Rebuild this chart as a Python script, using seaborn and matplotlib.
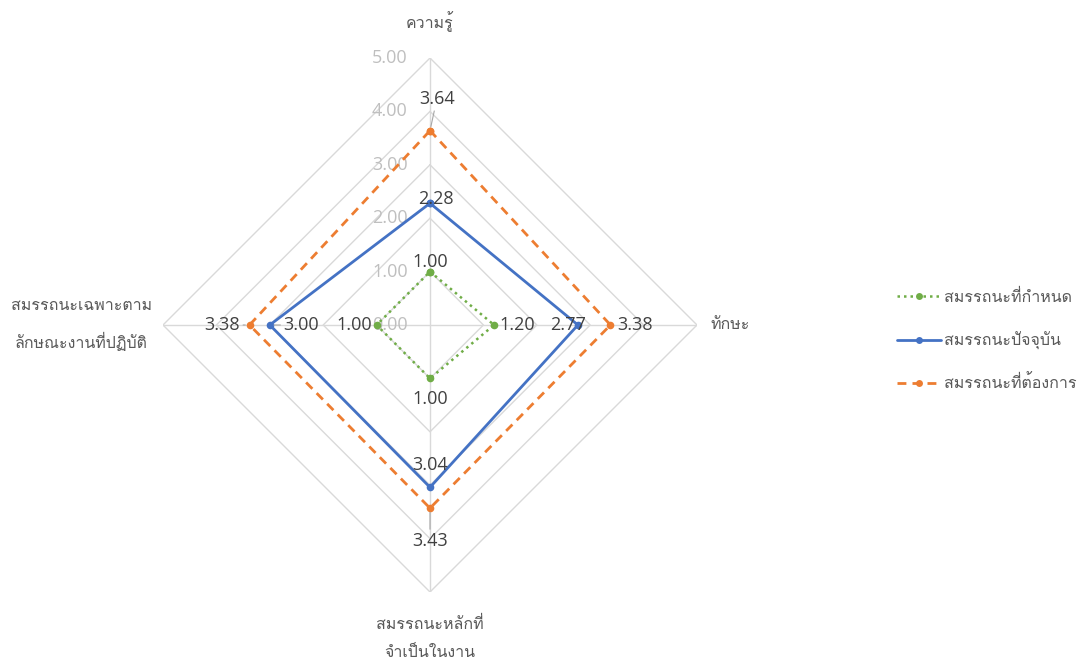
import numpy as np
import matplotlib
matplotlib.use("Agg")
import matplotlib.pyplot as plt
import seaborn as sns
from matplotlib import font_manager
from matplotlib.lines import Line2D

# ข้อมูล
categories = ["ความรู้", "ทักษะ", "สมรรถนะหลักที่\nจำเป็นในงาน", "สมรรถนะเฉพาะตาม\nลักษณะงานที่ปฏิบัติ"]
series_names = ["สมรรถนะที่กำหนด", "สมรรถนะปัจจุบัน", "สมรรถนะที่ต้องการ"]
required = [1.00, 1.20, 1.00, 1.00]
current = [2.28, 2.77, 3.04, 3.00]
desired = [3.64, 3.38, 3.43, 3.38]
levels = [0, 1, 2, 3, 4, 5]

# หาฟอนต์ที่มีอักษรไทย
names = {f.name for f in font_manager.fontManager.ttflist}
thai = [n for n in ["Loma", "Noto Sans Thai", "IBM Plex Sans Thai", "Sarabun"] if n in names][:1]

sns.set_style("white")
plt.rcParams["font.family"] = ["Open Sans"] + thai + ["DejaVu Sans"]
thai_family = thai + ["DejaVu Sans"]

fig = plt.figure(figsize=(10.79, 6.66), dpi=100)
ax = fig.add_axes([163 / 1079, 74 / 666, 534 / 1079, 534 / 666], projection="polar")
ax.set_theta_zero_location("N")
ax.set_theta_direction(-1)
ax.set_ylim(0, 5)
ax.grid(False)
ax.spines["polar"].set_visible(False)
ax.set_xticks([])
ax.set_yticks([])
ax.set_facecolor("none")

n = len(categories)
theta = np.arange(n) * 2 * np.pi / n
theta_c = np.append(theta, theta[0])

# เส้นกริดรูปข้าวหลามตัด
for lv in levels[1:]:
    ax.plot(theta_c, [lv] * (n + 1), color="#d9d9d9", lw=1.0, zorder=1)
for t in theta:
    ax.plot([t, t], [0, levels[-1]], color="#d9d9d9", lw=1.0, zorder=1)
for lv in levels:
    ax.annotate(f"{lv:.2f}", xy=(0, lv), xytext=(-16, 0), textcoords="offset points",
                ha="right", va="center", color="#bfbfbf", fontsize=13, zorder=2)

styles = [
    (required, "#70ad47", (0, (1, 1.6)), 1.8),
    (current, "#4472c4", "-", 2.0),
    (desired, "#ed7d31", (0, (3.2, 2.2)), 2.0),
]
for (vals, col, ls, lw), name in zip(styles, series_names):
    sns.lineplot(x=theta_c, y=np.append(vals, vals[0]), sort=False, ax=ax, color=col,
                 linestyle=ls, linewidth=lw, marker="o", markersize=5.5,
                 markeredgewidth=0, estimator=None, zorder=3)

# ตำแหน่งป้ายค่า (offset points, ha, va, leader)
label_pos = [
    [((0, 7), "center", "center", False), ((4, 0), "left", "center", False),
     ((0, -15), "center", "center", False), ((-3, 0), "right", "center", False)],
    [((4, 3), "center", "center", False), ((-7, 0), "center", "center", False),
     ((0, 16), "center", "center", False), ((10, 0), "left", "center", True)],
    [((5, 23), "center", "center", True), ((5, 0), "left", "center", False),
     ((0, -24), "center", "center", True), ((-7, 0), "right", "center", True)],
]
for (vals, col, ls, lw), poss in zip(styles, label_pos):
    for t, v, ((dx, dy), ha, va, lead) in zip(theta, vals, poss):
        ap = dict(arrowstyle="-", color="#a6a6a6", lw=0.8, shrinkA=0, shrinkB=3) if lead else None
        ax.annotate(f"{v:.2f}", xy=(t, v), xytext=(dx, dy), textcoords="offset points",
                    ha=ha, va=va, fontsize=13, color="#404040", arrowprops=ap, zorder=4)

# ป้ายหมวดหมู่
cat_pos = [((0, 26), "center", 2.0), ((10, 0), "left", 2.0),
           ((0, -34), "center", 2.0), ((-8, 0), "right", 2.3)]
for t, c, ((dx, dy), ha, lsp) in zip(theta, categories, cat_pos):
    ax.annotate(c, xy=(t, levels[-1]), xytext=(dx, dy), textcoords="offset points",
                ha=ha, va="center", multialignment="center", linespacing=lsp,
                fontsize=11.5, color="#595959", family=thai_family)

handles = [Line2D([], [], color=c, linestyle=ls, linewidth=lw, marker="o", markersize=5,
                  markeredgewidth=0) for (v, c, ls, lw) in styles]
leg = fig.legend(handles, series_names, loc="center left", bbox_to_anchor=(891 / 1079, 1 - 341 / 666),
                 frameon=False, prop={"family": thai_family, "size": 11.5}, labelspacing=1.6,
                 handlelength=2.7, handletextpad=0.2, borderaxespad=0)
for txt in leg.get_texts():
    txt.set_color("#595959")

fig.savefig("out.png", dpi=100)
